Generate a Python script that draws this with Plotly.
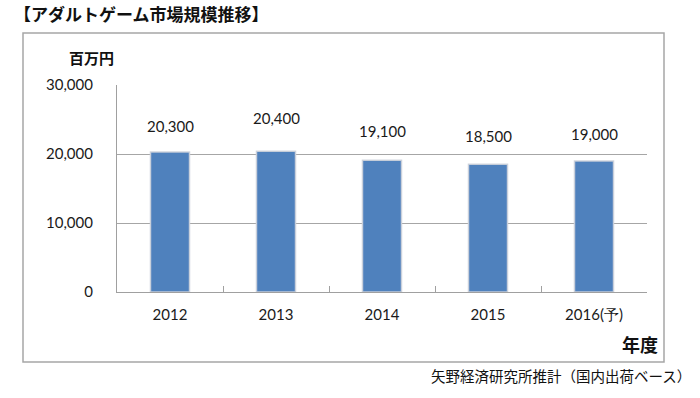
import plotly.graph_objects as go

categories = ["2012", "2013", "2014", "2015", "2016(予)"]
values = [20300, 20400, 19100, 18500, 19000]
y_ticks = [0, 10000, 20000, 30000]
y_tick_labels = ["0", "10,000", "20,000", "30,000"]

# style: vertical offsets (px) of data labels above bar tops
LABEL_SHIFT = [26, 33, 29, 28, 27]

W, H = 700, 398
L, R, T, B = 117, 647, 85, 292
pw, ph = R - L, B - T

def px(x):
    return (x - L) / pw

def py(y):
    return (B - y) / ph

NUM_FONT = "Lato, 'Open Sans', sans-serif"
JP_FONT = "'Noto Sans CJK JP', sans-serif"

fig = go.Figure()
fig.add_trace(go.Bar(
    x=categories, y=values,
    marker=dict(color="#4F81BD", line=dict(color="rgba(205,210,218,0.9)", width=1.5)),
    hoverinfo="skip",
))

for i, (v, s) in enumerate(zip(values, LABEL_SHIFT)):
    fig.add_annotation(x=i, y=v, xref="x", yref="y", text=f"{v:,}", showarrow=False,
                       yshift=s, font=dict(family=NUM_FONT, size=15, color="#1a1a1a"))

# outer frame
fig.add_shape(type="rect", xref="paper", yref="paper",
              x0=px(23), x1=px(664), y0=py(362), y1=py(33),
              line=dict(color="#a6a6a6", width=1.5), layer="below")

fig.add_annotation(xref="paper", yref="paper", x=px(12), y=py(13), xanchor="left", yanchor="middle",
                   text="<b>【アダルトゲーム市場規模推移】</b>", showarrow=False,
                   font=dict(family=JP_FONT, size=17, color="#111"))
fig.add_annotation(xref="paper", yref="paper", x=px(67), y=py(57), xanchor="left", yanchor="middle",
                   text="<b>百万円</b>", showarrow=False,
                   font=dict(family=JP_FONT, size=15, color="#111"))
fig.add_annotation(xref="paper", yref="paper", x=px(660), y=py(344), xanchor="right", yanchor="middle",
                   text="<b>年度</b>", showarrow=False,
                   font=dict(family=JP_FONT, size=18, color="#111"))
fig.add_annotation(xref="paper", yref="paper", x=px(693), y=py(375), xanchor="right", yanchor="middle",
                   text="矢野経済研究所推計（国内出荷ベース）", showarrow=False,
                   font=dict(family=JP_FONT, size=14.5, color="#111"))

fig.update_layout(
    width=W, height=H,
    margin=dict(l=L, r=W - R, t=T, b=H - B, pad=0),
    paper_bgcolor="white", plot_bgcolor="white",
    showlegend=False, bargap=0.632,
    xaxis=dict(type="category", range=[-0.5, len(categories) - 0.5],
               showline=True, linecolor="#a0a0a0", linewidth=1.2,
               ticks="inside", tickson="boundaries", ticklen=6, tickcolor="#a0a0a0",
               showgrid=False, ticklabelstandoff=9, tickangle=0,
               tickfont=dict(family=NUM_FONT, size=15, color="#1a1a1a"), fixedrange=True),
    yaxis=dict(range=[0, 30000], tickvals=y_ticks, ticktext=y_tick_labels,
               showline=True, linecolor="#a0a0a0", linewidth=1.2,
               showgrid=True, gridcolor="#a6a6a6", gridwidth=1, zeroline=False,
               ticks="", ticklabelstandoff=20,
               tickfont=dict(family=NUM_FONT, size=15, color="#1a1a1a"), fixedrange=True),
)

fig.write_html("out.html", config={"displayModeBar": False},
               post_script="document.body.style.margin='0';document.body.style.overflow='hidden';")
